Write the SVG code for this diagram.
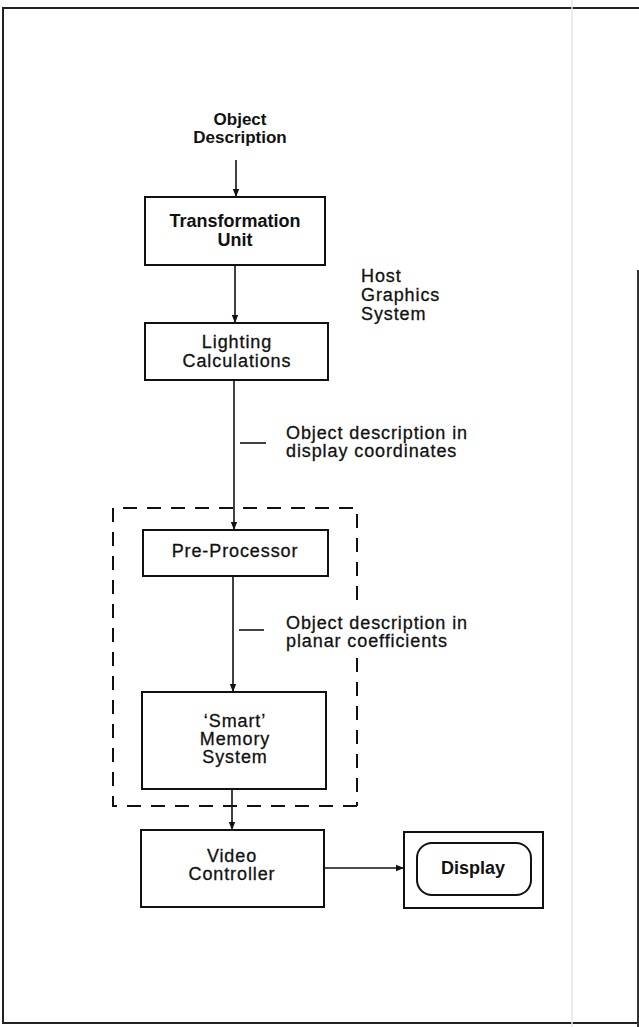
<svg xmlns="http://www.w3.org/2000/svg" width="639" height="1027" viewBox="0 0 639 1027">
<defs>
<style>
.box{fill:none;stroke:#111;stroke-width:2}
.t{font-family:"Liberation Sans",Arial,sans-serif;font-size:18px;fill:#111;stroke:#111;stroke-width:0.3px;letter-spacing:0.9px}
.b{font-family:"Liberation Sans",Arial,sans-serif;font-size:18px;font-weight:bold;fill:#111}
.s17{font-size:17px}
.c{text-anchor:middle}
.ln{stroke:#111;stroke-width:1.6;fill:none}
.dash{stroke:#111;stroke-width:2;fill:none;stroke-dasharray:14,10}
.frame{stroke:#222;stroke-width:2;fill:none}
</style>
<marker id="ah" viewBox="0 0 10 10" refX="10" refY="5" markerWidth="8" markerHeight="9" markerUnits="userSpaceOnUse" orient="auto">
<path d="M0,1 L10,5 L0,9 z" fill="#111"/>
</marker>
</defs>
<rect width="639" height="1027" fill="#fff"/>
<g id="frame">
<path class="frame" d="M639,8 L3,8 L3,1023 L639,1023"/>
<line x1="638" y1="270" x2="638" y2="1027" stroke="#333" stroke-width="2"/>
<line x1="572" y1="0" x2="572" y2="1027" stroke="#e6e6e6" stroke-width="1.5"/>
</g>
<g id="input-label">
<text class="b c s17" x="240" y="125">Object</text>
<text class="b c s17" x="240" y="143">Description</text>
</g>
<g id="transformation">
<rect class="box" x="145" y="197" width="180" height="68"/>
<text class="b c" x="235" y="227">Transformation</text>
<text class="b c" x="235" y="246">Unit</text>
</g>
<g id="host-label">
<text class="t" x="361" y="282">Host</text>
<text class="t" x="361" y="301">Graphics</text>
<text class="t" x="361" y="320">System</text>
</g>
<g id="lighting">
<rect class="box" x="145" y="323" width="183" height="57"/>
<text class="t c" x="237" y="348">Lighting</text>
<text class="t c" x="237" y="367">Calculations</text>
</g>
<g id="custom-hardware">
<path class="dash" d="M357,806 L113,806 L113,508 L357,508 L357,610"/>
<path class="dash" d="M357,658 L357,806"/>
</g>
<g id="preprocessor">
<rect class="box" x="143" y="530" width="185" height="46"/>
<text class="t c" x="235" y="557">Pre-Processor</text>
</g>
<g id="smart-memory">
<rect class="box" x="142" y="692" width="184" height="97"/>
<text class="t c" x="235" y="727">‘Smart’</text>
<text class="t c" x="235" y="745">Memory</text>
<text class="t c" x="235" y="763">System</text>
</g>
<g id="video-controller">
<rect class="box" x="141" y="830" width="183" height="77"/>
<text class="t c" x="232" y="862">Video</text>
<text class="t c" x="232" y="880">Controller</text>
</g>
<g id="display">
<rect class="box" x="404" y="832" width="139" height="76"/>
<rect class="box" x="417" y="843" width="114" height="52" rx="15"/>
<text class="b c" x="473" y="874">Display</text>
</g>
<g id="labels">
<line class="ln" x1="240" y1="443" x2="266" y2="443"/>
<text class="t" x="286" y="439">Object description in</text>
<text class="t" x="286" y="457">display coordinates</text>
<line class="ln" x1="239" y1="630" x2="264" y2="630"/>
<text class="t" x="286" y="629">Object description in</text>
<text class="t" x="286" y="647">planar coefficients</text>
</g>
<g id="connectors">
<line class="ln" x1="236" y1="160" x2="236" y2="197" marker-end="url(#ah)"/>
<line class="ln" x1="235" y1="265" x2="235" y2="323" marker-end="url(#ah)"/>
<line class="ln" x1="234" y1="380" x2="234" y2="530" marker-end="url(#ah)"/>
<line class="ln" x1="233" y1="576" x2="233" y2="692" marker-end="url(#ah)"/>
<line class="ln" x1="232" y1="789" x2="232" y2="830" marker-end="url(#ah)"/>
<line class="ln" x1="324" y1="868" x2="404" y2="868" marker-end="url(#ah)"/>
</g>
</svg>
